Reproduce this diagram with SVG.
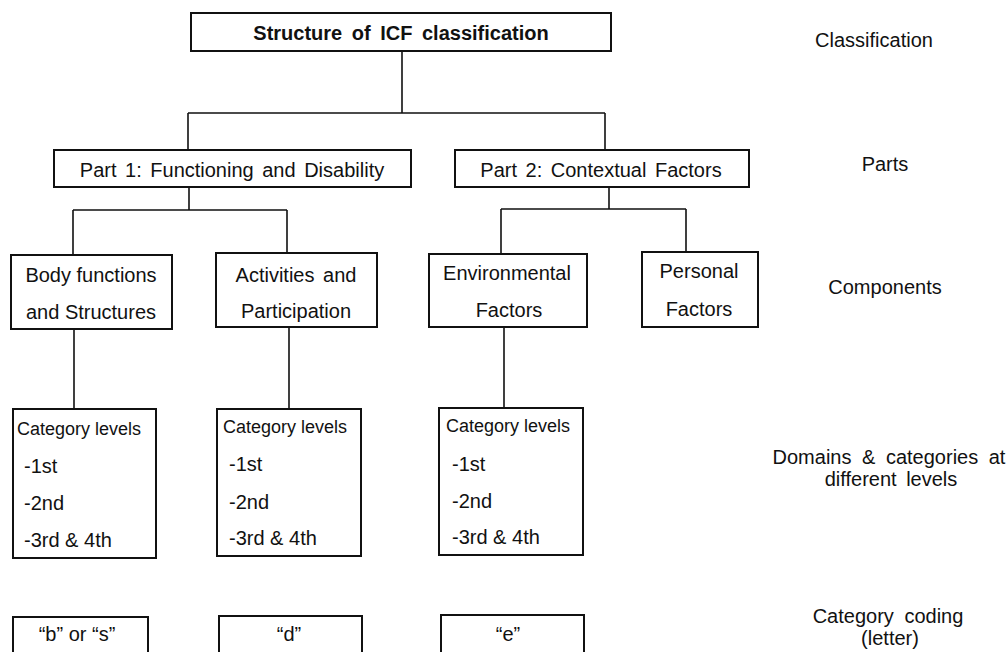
<svg xmlns="http://www.w3.org/2000/svg" width="1008" height="652" viewBox="0 0 1008 652">
<style>
text{font-family:"Liberation Sans",Arial,sans-serif;font-size:20px;fill:#111}
.b{fill:#fff;stroke:#111;stroke-width:2}
.c{fill:none;stroke:#111;stroke-width:1.6}
.m{text-anchor:middle}
.ws{word-spacing:3px}
.s{font-size:18px}
</style>
<rect width="1008" height="652" fill="#fff"/>
<g id="connectors" class="c">
<path d="M402 51V113M188 113H605M188 113V150M605 113V150"/>
<path d="M189 187V210M73 210H287M73 210V255M287 210V253"/>
<path d="M609 187V209M501 209H686M501 209V254M686 209V252"/>
<path d="M74 329V409M289 327V409M504 327V408"/>
</g>
<g id="root"><rect class="b" x="191" y="13" width="420" height="38" stroke-width="2.5"/><text class="m" x="401" y="40" font-weight="bold" style="word-spacing:4px">Structure of ICF classification</text></g>
<g id="part1"><rect class="b" x="54" y="150" width="357" height="37"/><text class="m ws" x="232" y="177">Part 1: Functioning and Disability</text></g>
<g id="part2"><rect class="b" x="455" y="150" width="294" height="37"/><text class="m ws" x="601" y="177">Part 2: Contextual Factors</text></g>
<g id="body"><rect class="b" x="11" y="255" width="161" height="74"/><text class="m" x="91" y="282">Body functions</text><text class="m" x="91" y="319">and Structures</text></g>
<g id="activities"><rect class="b" x="216" y="253" width="161" height="74"/><text class="m ws" x="296" y="282">Activities and</text><text class="m" x="296" y="318">Participation</text></g>
<g id="environmental"><rect class="b" x="429" y="254" width="158" height="73"/><text class="m" x="507" y="280">Environmental</text><text class="m" x="509" y="317">Factors</text></g>
<g id="personal"><rect class="b" x="642" y="252" width="116" height="75"/><text class="m" x="699" y="278">Personal</text><text class="m" x="699" y="316">Factors</text></g>
<g id="levels1"><rect class="b" x="13" y="409" width="143" height="149"/><text class="s" x="17" y="435">Category levels</text><text x="24" y="473">-1st</text><text x="24" y="510">-2nd</text><text x="24" y="547">-3rd &amp; 4th</text></g>
<g id="levels2"><rect class="b" x="217" y="409" width="144" height="147"/><text class="s" x="223" y="433">Category levels</text><text x="229" y="471">-1st</text><text x="229" y="509">-2nd</text><text x="229" y="545">-3rd &amp; 4th</text></g>
<g id="levels3"><rect class="b" x="439" y="408" width="144" height="147"/><text class="s" x="446" y="432">Category levels</text><text x="452" y="471">-1st</text><text x="452" y="508">-2nd</text><text x="452" y="544">-3rd &amp; 4th</text></g>
<g id="code1"><rect class="b" x="13" y="617" width="135" height="50"/><text class="m" x="77" y="641">“b” or “s”</text></g>
<g id="code2"><rect class="b" x="219" y="616" width="143" height="50"/><text class="m" x="289" y="641">“d”</text></g>
<g id="code3"><rect class="b" x="441" y="615" width="143" height="50"/><text class="m" x="508" y="641">“e”</text></g>
<g id="labels">
<text class="m" x="874" y="47">Classification</text>
<text class="m" x="885" y="171">Parts</text>
<text class="m" x="885" y="294">Components</text>
<text class="m" x="889" y="464" style="word-spacing:5px">Domains &amp; categories at</text>
<text class="m" x="891" y="486" style="word-spacing:4px">different levels</text>
<text class="m" x="888" y="623" style="word-spacing:5px">Category coding</text>
<text class="m" x="890" y="645">(letter)</text>
</g>
</svg>
